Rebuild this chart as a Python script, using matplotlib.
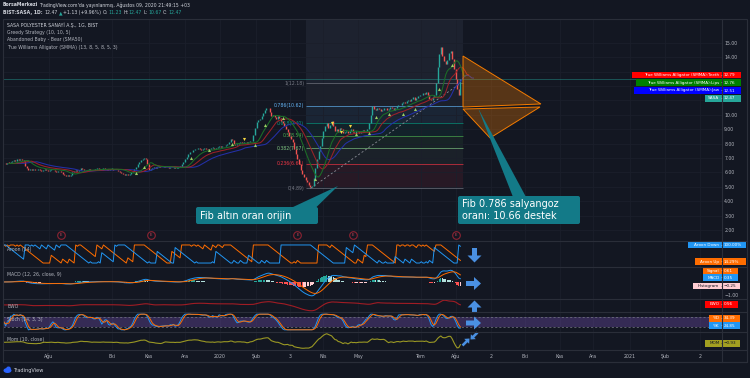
import numpy as np
import pandas as pd
import matplotlib
matplotlib.use("Agg")
import matplotlib.pyplot as plt
from matplotlib.patches import Rectangle, Polygon, FancyBboxPatch, FancyArrow, Ellipse
from matplotlib.transforms import blended_transform_factory

# ---------------- data ----------------
close = [
    6.62, 6.60, 6.68, 6.65, 6.70, 6.78, 6.85, 6.80, 6.90, 6.88,
    6.92, 6.85, 6.80, 6.45, 6.28, 6.20, 6.25, 6.18, 6.22, 6.15,
    6.20, 6.25, 6.18, 6.12, 6.20, 6.22, 6.15, 6.10, 6.18, 6.20,
    6.15, 6.12, 6.05, 6.10, 6.08, 6.00, 5.90, 5.80, 5.75, 5.82,
    5.78, 5.85, 6.00, 6.10, 6.15, 6.12, 6.20, 6.30, 6.25, 6.18,
    6.15, 6.20, 6.22, 6.18, 6.15, 6.20, 6.25, 6.30, 6.22, 6.18,
    6.20, 6.32, 6.25, 6.20, 6.18, 6.22, 6.25, 6.20, 6.15, 6.18,
    6.12, 6.05, 5.95, 5.88, 5.82, 5.90, 5.85, 5.92, 6.00, 6.10,
    6.25, 6.40, 6.55, 6.70, 6.85, 6.95, 7.00, 6.90, 6.55, 6.20,
    6.25, 6.30, 6.35, 6.30, 6.38, 6.42, 6.35, 6.40, 6.45, 6.38,
    6.35, 6.30, 6.32, 6.28, 6.35, 6.30, 6.33, 6.38, 6.40, 6.55,
    6.70, 6.90, 7.10, 7.30, 7.45, 7.40, 7.55, 7.65, 7.60, 7.70,
    7.62, 7.58, 7.65, 7.70, 7.60, 7.55, 7.62, 7.68, 7.72, 7.65,
    7.70, 7.78, 7.82, 7.75, 7.80, 7.85, 7.90, 7.95, 8.10, 8.30,
    8.25, 7.95, 7.90, 8.00, 8.05, 8.10, 8.02, 8.08, 8.12, 8.05,
    8.10, 8.15, 8.20, 8.60, 9.10, 9.50, 9.65, 9.70, 9.90, 10.10,
    10.30, 10.45, 10.50, 10.20, 9.90, 10.00, 9.85, 9.70, 9.90, 9.80,
    9.60, 9.40, 9.20, 9.00, 8.80, 8.50, 8.30, 8.10, 7.60, 7.30,
    6.90, 6.60, 6.20, 5.90, 5.70, 5.50, 5.30, 5.10, 5.00, 5.05,
    5.60, 6.30, 6.90, 7.50, 7.80, 8.40, 8.90, 9.20, 9.40, 9.10,
    9.30, 9.60, 9.20, 8.90, 9.00, 8.80, 9.10, 9.00, 8.70, 8.80,
    8.90, 8.75, 8.85, 9.00, 8.80, 8.70, 8.85, 8.90, 8.75, 8.80,
    8.95, 8.85, 8.90, 9.00, 9.40, 10.00, 10.60, 10.40, 10.30, 10.50,
    10.40, 10.25, 10.35, 10.50, 10.45, 10.30, 10.40, 10.55, 10.45, 10.35,
    10.50, 10.60, 10.70, 10.65, 10.80, 10.90, 10.85, 10.95, 11.05, 10.95,
    11.10, 11.20, 11.05, 11.15, 11.30, 11.40, 11.35, 11.50, 11.45, 11.60,
    11.40, 11.10, 11.00, 11.20, 11.40, 12.20, 13.30, 14.20, 14.70, 14.10,
    13.70, 13.50, 13.80, 14.30, 14.40, 13.90, 13.20, 12.50, 11.80, 11.34,
    12.47,
]

fib_low, fib_high = 4.89, 12.18
fib_ratios = [0, 0.236, 0.382, 0.5, 0.618, 0.786, 1, 1.618]
fib_start_bar, fib_end_bar = 185, 281.5
trend_bars = [188, 280]

green_sig_bars = [81, 86, 115, 126, 140, 154, 160, 171, 191, 216, 224, 228, 236, 245, 252, 267, 275]
green_sig_prices = [5.98, 6.40, 6.98, 7.56, 7.95, 7.90, 9.29, 9.78, 5.52, 8.65, 8.72, 9.87, 10.06, 10.06, 10.38, 11.77, 13.46]
yellow_sig_bars = [147, 201, 207, 212]
yellow_sig_prices = [8.30, 9.45, 8.78, 9.22]

earnings_bars = [35, 90, 180, 214, 277]

fan_upper = [(281.6, 14.08), (329.4, 10.75), (281.6, 10.54)]
fan_lower = [(281.6, 10.40), (328.8, 10.54), (298.2, 8.39)]

time_tick_bars = [27.6, 66.3, 88.8, 110.9, 132.3, 154.6, 175.5, 195.7, 217.2,
                  255.8, 277.3, 298.8, 319.6, 341.1, 361.3, 384.0, 405.5, 427.0]
time_tick_labels = ["Ağu", "Eki", "Kas", "Ara", "2020", "Şub", "3", "Nis", "May",
                    "Tem", "Ağu", "2", "Eki", "Kas", "Ara", "2021", "Şub", "2"]
price_ticks = list(range(2, 16))
hidden_price_labels = [11, 12, 13]   # covered by the value tags in the reference

# ---------------- style ----------------
BG = "#131722"
GRID = "#1b1f2b"
SEP = "#2a2e39"
TXT = "#b2b5be"
UPC, DNC = "#26a69a", "#ef5350"
W, H = 750, 378
XMIN = -0.92
XMAX = XMIN + (722 - 2.5) / 1.63

c = np.array(close)
N = len(c)
idx = np.arange(N)
s = pd.Series(c)

fig = plt.figure(figsize=(7.5, 3.78), dpi=100, facecolor=BG)


def pane(y0, y1):
    ax = fig.add_axes([2.5 / W, 1 - y1 / H, (722 - 2.5) / W, (y1 - y0) / H])
    ax.set_facecolor(BG)
    for sp in ax.spines.values():
        sp.set_visible(False)
    ax.set_xlim(XMIN, XMAX)
    ax.set_xticks(time_tick_bars)
    ax.set_xticklabels([])
    ax.tick_params(length=0, labelsize=3.2, colors=TXT)
    ax.grid(axis="x", color=GRID, lw=0.6)
    ax.set_yticks([])
    ax.set_axisbelow(True)
    return ax


# ---------------- main pane ----------------
ax = pane(19, 241)
ax.set_ylim(1.236, 16.65)
ax.yaxis.tick_right()
ax.set_yticks(price_ticks)
ax.set_yticklabels(["" if v in hidden_price_labels else f"{v:.2f}" for v in price_ticks])
ax.tick_params(axis="y", pad=1.6, labelsize=3.3, colors=TXT)
ax.grid(axis="y", color=GRID, lw=0.6)

# fib retracement
levels = [fib_low + r * (fib_high - fib_low) for r in fib_ratios]
line_colors = ["#787b86", "#f23645", "#81c784", "#4caf50", "#089981", "#64b5f6", "#787b86", "#2962ff"]
band_colors = ["#f23645", "#6f8f73", "#4caf50", "#089981", "#64b5f6", "#787b86", "#8c9bbd"]
for k in range(len(levels) - 1):
    ax.fill_between([fib_start_bar, fib_end_bar], levels[k], levels[k + 1],
                    color=band_colors[k], alpha=0.09, lw=0, zorder=0.5)
for k in range(7):
    ax.hlines(levels[k], fib_start_bar, fib_end_bar, color=line_colors[k], lw=0.6, alpha=0.75, zorder=1)
    ax.text(fib_start_bar - 0.8, levels[k], f"{fib_ratios[k]:g}({levels[k]:.2f})",
            ha="right", va="center", fontsize=3.3, color=line_colors[k], zorder=1)
ax.plot(trend_bars, [fib_low, fib_high], color="#8a8d96", lw=0.6, ls=(0, (2.5, 2.5)), zorder=1.2)

# current price line
ax.axhline(c[-1], color=UPC, lw=0.6, alpha=0.5, zorder=1)

# candles
o = np.r_[c[0], c[:-1]]
lo = np.minimum(o, c)
hi = np.maximum(np.maximum(o, c), lo + 0.05)
ax.vlines(idx, lo, hi, colors=np.where(c >= o, UPC, DNC), lw=1.0, zorder=2)

# alligator
jaw = s.ewm(alpha=1 / 13, adjust=False).mean().values
teeth = s.ewm(alpha=1 / 8, adjust=False).mean().values
lips = s.ewm(alpha=1 / 5, adjust=False).mean().values
ax.plot(idx + 8, jaw, color="#2430a8", lw=0.75, zorder=3)
ax.plot(idx + 5, teeth, color="#9c2128", lw=0.75, zorder=3)
ax.plot(idx + 3, lips, color="#1b6e26", lw=0.75, zorder=3)

# greedy strategy markers
ax.scatter(green_sig_bars, green_sig_prices, marker="^", s=5, color="#9ccc65", lw=0, zorder=4)
ax.scatter(yellow_sig_bars, yellow_sig_prices, marker="v", s=5, color="#f5d742", lw=0, zorder=4)

# orange fan drawing
for pts in (fan_upper, fan_lower):
    ax.add_patch(Polygon(pts, closed=True, facecolor="#f57c00", alpha=0.3, lw=0, zorder=4))
    ax.add_patch(Polygon(pts, closed=True, fill=False, edgecolor="#f57c00", lw=0.7, zorder=4))

# earnings markers
tr = blended_transform_factory(ax.transData, ax.transAxes)
ax.scatter(earnings_bars, [0.027] * len(earnings_bars), s=30, facecolor=BG,
           edgecolor="#8c2332", lw=0.8, transform=tr, zorder=5, clip_on=False)
for b in earnings_bars:
    ax.text(b, 0.027, "E", transform=tr, ha="center", va="center", fontsize=2.8,
            color="#d0455a", zorder=6)

# ---------------- Aroon ----------------
ax_ar = pane(241, 267)
ax_ar.set_ylim(-22, 122)
n = 14
since_hi = s.rolling(n + 1, min_periods=1).apply(lambda w: np.argmax(w[::-1]), raw=True)
since_lo = s.rolling(n + 1, min_periods=1).apply(lambda w: np.argmin(w[::-1]), raw=True)
ar_up = 100 * (n - since_hi) / n
ar_dn = 100 * (n - since_lo) / n
ax_ar.plot(idx, ar_up, color="#ff6d00", lw=0.7)
ax_ar.plot(idx, ar_dn, color="#2196f3", lw=0.7)

# ---------------- MACD ----------------
ax_m = pane(267, 299)
ax_m.set_ylim(-1.31, 1.15)
macd = s.ewm(span=12, adjust=False).mean() - s.ewm(span=26, adjust=False).mean()
sig = macd.ewm(span=9, adjust=False).mean()
hist = (macd - sig).values
prev = np.r_[0, hist[:-1]]
hcol = np.where(hist >= 0, np.where(hist > prev, "#26a69a", "#b2dfdb"),
                np.where(hist < prev, "#ff5252", "#ffcdd2"))
ax_m.bar(idx, hist, width=0.8, color=hcol, lw=0)
ax_m.plot(idx, macd, color="#2196f3", lw=0.7)
ax_m.plot(idx, sig, color="#ff6d00", lw=0.7)
ax_m.yaxis.tick_right()
ax_m.set_yticks([-1])
ax_m.set_yticklabels(["\u22121.00"])
ax_m.tick_params(axis="y", pad=1.6, labelsize=3.3, colors=TXT)

# ---------------- EWO ----------------
ax_e = pane(299, 312)
ewo = (s.rolling(5, min_periods=1).mean() - s.rolling(35, min_periods=1).mean()).values
r = ewo.max() - ewo.min()
ax_e.set_ylim(ewo.min() - 0.12 * r, ewo.max() + 0.12 * r)
ax_e.plot(idx, ewo, color="#a01c24", lw=0.8)

# ---------------- Stoch ----------------
ax_s = pane(312, 332)
ax_s.set_ylim(-14, 114)
ll = s.rolling(14, min_periods=1).min()
hh = s.rolling(14, min_periods=1).max()
raw = (100 * (s - ll) / (hh - ll)).fillna(50)
k_line = raw.rolling(3, min_periods=1).mean()
d_line = k_line.rolling(3, min_periods=1).mean()
ax_s.axhspan(20, 80, color="#7e57c2", alpha=0.32, lw=0)
ax_s.axhline(80, color="#787b86", lw=0.5, ls=(0, (3, 3)))
ax_s.axhline(20, color="#787b86", lw=0.5, ls=(0, (3, 3)))
ax_s.plot(idx, k_line, color="#2196f3", lw=0.7)
ax_s.plot(idx, d_line, color="#ff6d00", lw=0.7)

# ---------------- Momentum ----------------
ax_mo = pane(332, 350)
mom = (s - s.shift(10).fillna(s.iloc[0])).values
r = mom.max() - mom.min()
ax_mo.set_ylim(mom.min() - 0.12 * r, mom.max() + 0.12 * r)
ax_mo.plot(idx, mom, color="#9a9824", lw=0.8)
ax_mo.set_xticklabels(time_tick_labels)
ax_mo.tick_params(axis="x", pad=2.6, labelsize=3.4, colors=TXT)

# ---------------- overlay (pixel coordinates) ----------------
ov = fig.add_axes([0, 0, 1, 1], zorder=20)
ov.set_xlim(0, W)
ov.set_ylim(H, 0)
ov.axis("off")
ov.patch.set_alpha(0)

# frame / separators
for yy in (241, 267, 299, 312, 332, 350, 362):
    ov.plot([2.5, 747], [yy, yy], color=SEP, lw=0.8)
ov.plot([722, 722], [19, 362], color=SEP, lw=0.8)
ov.add_patch(Rectangle((2.5, 19), 744.5, 343, fill=False, edgecolor=SEP, lw=0.8))

renderer = fig.canvas.get_renderer()


def runs(x, y, parts, size):
    for txt, col, bold, gap in parts:
        t = ov.text(x, y, txt, color=col, fontsize=size, va="center", ha="left",
                    fontweight="bold" if bold else "normal")
        x += t.get_window_extent(renderer=renderer).width + gap


WH = "#d1d4dc"
runs(3, 5, [("BorsaMerkezi", WH, True, 1.2),
            ("TradingView.com'da yayınlanmış, Ağustos 09, 2020 21:49:15 +03", WH, False, 0)], 3.3)
runs(3, 12.5, [("BIST:SASA, 1D:", WH, True, 1.4), ("12.47", WH, False, 1.2), ("▲", UPC, False, 1.2),
               ("+1.13 (+9.96%)", WH, False, 1.4), ("O:", WH, False, 0.6), ("11.23", UPC, False, 1.4),
               ("H:", WH, False, 0.6), ("12.47", UPC, False, 1.4), ("L:", WH, False, 0.6),
               ("10.67", UPC, False, 1.4), ("C:", WH, False, 0.6), ("12.47", UPC, False, 0)], 3.3)

legend_lines = ["SASA POLYESTER SANAYİ A.Ş., 1G, BIST", "Greedy Strategy (10, 10, 5)",
                "Abandoned Baby - Bear (SMA50)", "True Williams Alligator (SMMA) (13, 8, 5, 8, 5, 3)"]
for j, t in enumerate(legend_lines):
    ov.text(7, 25 + 7.4 * j, t, fontsize=3.3, color=WH if j == 0 else TXT, va="center")

for yy, t in [(249, "Aroon (14)"), (274.5, "MACD (12, 26, close, 9)"), (306, "EWO"),
              (320, "Stoch (14, 3, 3)"), (339, "Mom (10, close)")]:
    ov.text(7, yy, t, fontsize=3.3, color=TXT, va="center")


def tag(y, x0, x1, bg, name, val, fg="white"):
    ov.add_patch(Rectangle((x0, y - 3.3), x1 - x0, 6.6, color=bg, lw=0))
    ov.text(719.5, y, name, ha="right", va="center", fontsize=3.0, color=fg)
    ov.text(721.2, y, "-", ha="center", va="center", fontsize=3.0, color=fg)
    ov.text(724, y, val, ha="left", va="center", fontsize=3.0, color=fg)


tag(75, 631.5, 741, "#ff0000", "True Williams Alligator (SMMA):Teeth", "12.79")
tag(82.7, 636, 741, "#008000", "True Williams Alligator (SMMA):Lips", "12.76")
tag(90.5, 633.5, 741, "#0000ff", "True Williams Alligator (SMMA):Jaw", "12.51")
tag(98.3, 705, 741, "#26a69a", "SASA", "12.47")
tag(245, 688, 746, "#2196f3", "Aroon Down", "100.00%")
tag(261.7, 695, 746, "#ff6d00", "Aroon Up", "14.29%")
tag(270.7, 703, 738, "#ff6d00", "Signal", "0.61")
tag(277.7, 703, 738, "#2196f3", "MACD", "0.35")
tag(286, 692.5, 740, "#ffcdd2", "Histogram", "\u22120.25", fg="#131722")
tag(304.3, 705, 738, "#ff0000", "EWO", "0.56")
tag(318.3, 709, 740, "#ff6d00", "%D", "34.39")
tag(325.7, 709, 740, "#2196f3", "%K", "24.85")
tag(343.3, 705, 740, "#a3a021", "MOM", "\u22120.93", fg="#131722")

# callouts
CALL = "#137a88"
ov.add_patch(Polygon([(338, 186), (292, 207.5), (316, 207.5)], closed=True, color=CALL, lw=0))
ov.add_patch(FancyBboxPatch((196, 207), 122, 17, boxstyle="round,pad=0,rounding_size=2",
                            color=CALL, lw=0))
ov.text(200, 215.7, "Fib altın oran orijin", fontsize=7.0, color="white", va="center", ha="left")

ov.add_patch(Polygon([(478, 108), (513, 197), (526, 197)], closed=True, color=CALL, lw=0))
ov.add_patch(FancyBboxPatch((458, 196), 122, 28, boxstyle="round,pad=0,rounding_size=2",
                            color=CALL, lw=0))
ov.text(462, 203.8, "Fib 0.786 salyangoz", fontsize=7.0, color="white", va="center", ha="left")
ov.text(462, 215.8, "oranı: 10.66 destek", fontsize=7.0, color="white", va="center", ha="left")

# blue signal arrows
AR = "#4a90e2"
ov.add_patch(FancyArrow(474.5, 248, 0, 14.5, width=5, head_width=14, head_length=7,
                        length_includes_head=True, color=AR, lw=0))
ov.add_patch(FancyArrow(466, 283.5, 15, 0, width=5, head_width=13, head_length=7,
                        length_includes_head=True, color=AR, lw=0))
ov.add_patch(FancyArrow(474.5, 312.5, 0, -12, width=5, head_width=14, head_length=7,
                        length_includes_head=True, color=AR, lw=0))
ov.add_patch(FancyArrow(466, 323, 15, 0, width=5, head_width=13, head_length=7,
                        length_includes_head=True, color=AR, lw=0))
ov.add_patch(FancyArrow(477.5, 332.5, -7, 7, width=2.6, head_width=7, head_length=4,
                        length_includes_head=True, color=AR, lw=0))
ov.add_patch(FancyArrow(462.5, 345.5, 7, -7, width=2.6, head_width=7, head_length=4,
                        length_includes_head=True, color=AR, lw=0))

# TradingView logo
ov.add_patch(Ellipse((7.5, 370.5), 8, 5, color="#2962ff", lw=0))
ov.add_patch(Ellipse((8.5, 368.5), 4.5, 4, color="#2962ff", lw=0))
ov.text(13.5, 370.5, "TradingView", fontsize=3.6, color=WH, va="center", ha="left")

fig.savefig("out.png", dpi=100, facecolor=BG)
